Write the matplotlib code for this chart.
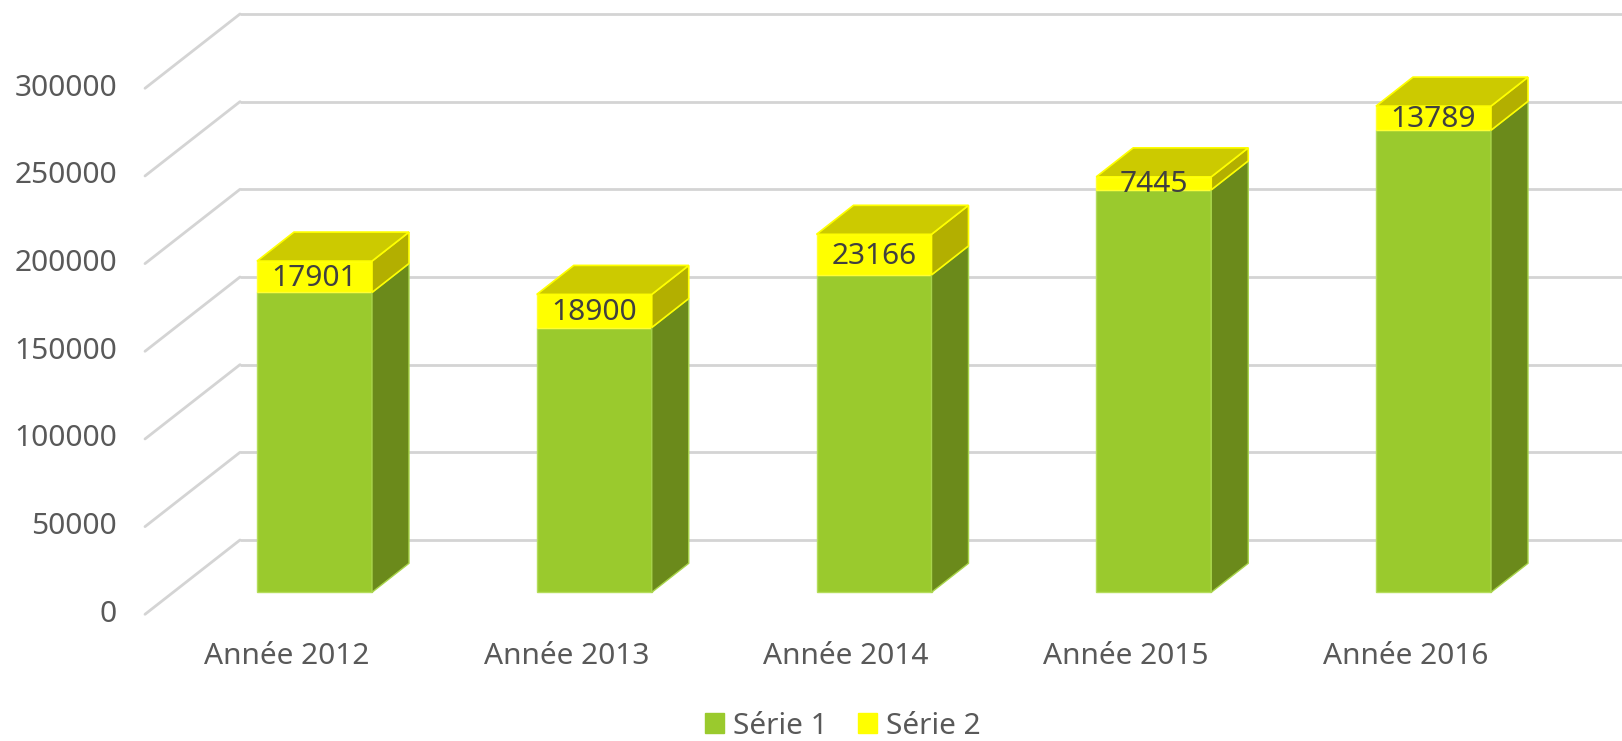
import matplotlib
matplotlib.use("Agg")
import matplotlib.pyplot as plt
from matplotlib.patches import Polygon, Patch
import numpy as np

categories = ["Année 2012", "Année 2013", "Année 2014", "Année 2015", "Année 2016"]
serie1 = [171000, 151000, 181000, 229500, 263500]
serie2 = [17901, 18900, 23166, 7445, 13789]
y_ticks = [0, 50000, 100000, 150000, 200000, 250000, 300000]
series_names = ["Série 1", "Série 2"]

W, H = 1622, 741
fig = plt.figure(figsize=(W / 100, H / 100), dpi=100)
ax = fig.add_axes([0, 0, 1, 1])
ax.set_axis_off()

# pixel calibration
cx0, cstep = 314.5, 279.75          # first bar centre / spacing (px)
y0_px, per50k = 592.3, 87.67        # bar-plane zero (px from top) / px per 50000
k = 50000 / per50k                  # value per px
ax.set_xlim(-cx0 / cstep, (W - cx0) / cstep)
ax.set_ylim(-(H - y0_px) * k, y0_px * k)

def px_x(p):
    return p / cstep

def px_y(p):
    return p * k

FONT = "Noto Sans"
FS = 21.5
txt_col = "#595959"
grid_col = "#d4d4d4"

x = np.arange(len(categories))
width = px_x(115)
ddx, ddy = px_x(37), px_y(29)        # bar depth
wdx, wdy = px_x(67), px_y(52.3)      # back-wall offset
fdx, fdy = px_x(-28), px_y(-22)      # front-edge offset
x_left = px_x(173 - cx0)
x_right = px_x(W - cx0 + 10)

# back wall grid + floor/side diagonals
for t in y_ticks:
    ax.plot([x_left + wdx, x_right], [t + wdy, t + wdy], color=grid_col, lw=2.0,
            solid_capstyle="butt", zorder=1)
    ax.plot([x_left + fdx, x_left + wdx], [t + fdy, t + wdy], color=grid_col, lw=2.0,
            solid_capstyle="round", zorder=1)
    ax.text(x_left + fdx - px_x(28), t + fdy, f"{t}", ha="right", va="center",
            fontsize=FS, color=txt_col, family=FONT)

green_front, green_side = "#9ACA2D", "#6B8A1B"
yel_front, yel_top, yel_side = "#FFFF00", "#CCCA00", "#B3AF00"

bars1 = ax.bar(x, serie1, width, color=green_front, edgecolor="#b4dc5a", lw=1.0, zorder=3)
bars2 = ax.bar(x, serie2, width, bottom=serie1, color=yel_front, edgecolor="#ffff33", lw=1.0, zorder=3)

for xi, s1, s2 in zip(x, serie1, serie2):
    xr = xi + width / 2
    xl = xi - width / 2
    top = s1 + s2
    # green side
    ax.add_patch(Polygon([(xr, 0), (xr + ddx, ddy), (xr + ddx, s1 + ddy), (xr, s1)],
                         closed=True, facecolor=green_side, edgecolor="#a8d44a", lw=1.0, zorder=3))
    # yellow side
    ax.add_patch(Polygon([(xr, s1), (xr + ddx, s1 + ddy), (xr + ddx, top + ddy), (xr, top)],
                         closed=True, facecolor=yel_side, edgecolor="#ffff00", lw=1.2, zorder=3))
    # yellow top
    ax.add_patch(Polygon([(xl, top), (xr, top), (xr + ddx, top + ddy), (xl + ddx, top + ddy)],
                         closed=True, facecolor=yel_top, edgecolor="#ffff00", lw=1.2, zorder=3))
    ax.text(xi, s1 + s2 / 2 - px_y(1.5), f"{s2}", ha="center", va="center", fontsize=FS,
            color="#404040", family=FONT, zorder=5)

for xi, c in zip(x, categories):
    ax.text(xi + fdx, px_y(-64), c, ha="center", va="center", fontsize=FS,
            color=txt_col, family=FONT)

handles = [Patch(facecolor=green_front, edgecolor=green_front),
           Patch(facecolor=yel_front, edgecolor=yel_front)]
leg = fig.legend(handles, series_names, loc="center", bbox_to_anchor=(843 / W, 1 - 726 / H),
                 ncol=2, frameon=False, handlelength=0.65, handleheight=0.65,
                 handletextpad=0.3, columnspacing=1.0, borderaxespad=0,
                 prop={"family": FONT, "size": FS})
for t in leg.get_texts():
    t.set_color(txt_col)

fig.savefig("out.png", dpi=100, facecolor="white")
